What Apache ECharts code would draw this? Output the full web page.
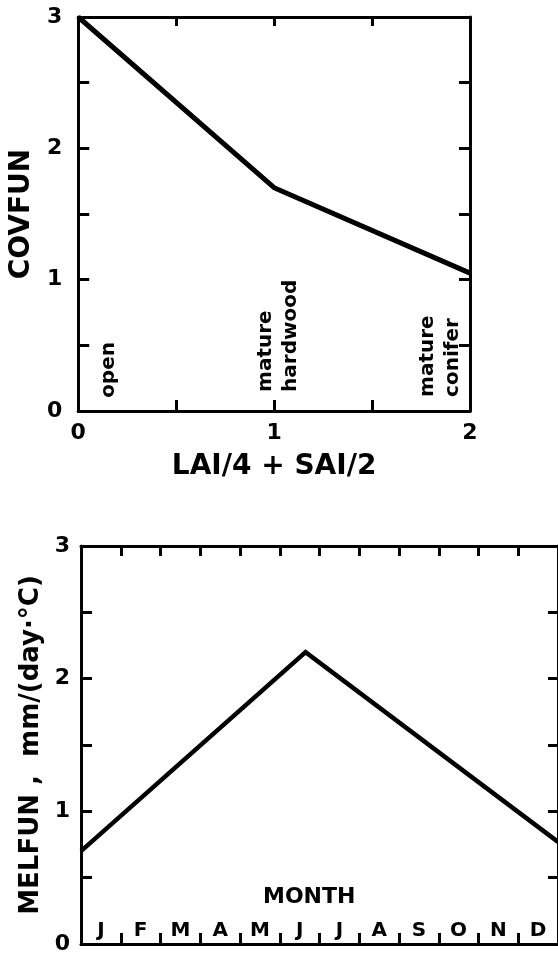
<!DOCTYPE html>
<html>
<head>
<meta charset="utf-8">
<script src="https://cdn.jsdelivr.net/npm/echarts@6/dist/echarts.min.js"></script>
<style>
  html, body { margin: 0; padding: 0; background: #fff; }
  #chart { width: 558px; height: 955px; }
</style>
</head>
<body>
<div id="chart"></div>
<script>
// Cover function: COVFUN against canopy index LAI/4 + SAI/2
const covX = [0, 1, 2];
const covY = [3, 1.7, 1.05];
const coverNames = ['open', 'mature\nhardwood', 'mature\nconifer'];
const coverX = [0.155, 1.02, 1.847];
const coverY = [0.10, 0.145, 0.107];

// Snowmelt function: MELFUN through the year (x in months from Jan 1)
const months = ['J', 'F', 'M', 'A', 'M', 'J', 'J', 'A', 'S', 'O', 'N', 'D'];
const melX = [0, 5.65, 12];
const melY = [0.7, 2.2, 0.77];

const FONT = 'DejaVu Sans';
const INK = '#000';

const intLabel = v => (Math.abs(v - Math.round(v)) < 1e-6 ? String(Math.round(v)) : '');

function frameAxis(extra) {
  return Object.assign({
    axisLine: { show: true, onZero: false, lineStyle: { color: INK, width: 3 } },
    axisTick: { show: true, inside: true, length: 11, lineStyle: { color: INK, width: 3 } },
    axisLabel: { show: false },
    splitLine: { show: false }
  }, extra);
}

const tickLabel = { show: true, color: INK, fontFamily: FONT, fontWeight: 'bold', fontSize: 22, formatter: intLabel };

const chart = echarts.init(document.getElementById('chart'), null, { renderer: 'canvas' });

chart.setOption({
  backgroundColor: '#fff',
  animation: false,
  grid: [
    { left: 72, top: 17, width: 398, height: 394 },
    { left: 81, top: 546, width: 482, height: 398 }
  ],
  xAxis: [
    frameAxis({
      type: 'value', gridIndex: 0, position: 'bottom', min: 0, max: 2, interval: 0.5,
      axisLabel: Object.assign({}, tickLabel, { margin: 11 }),
      name: 'LAI/4 + SAI/2', nameLocation: 'middle', nameGap: 42,
      nameTextStyle: { color: INK, fontFamily: FONT, fontWeight: 'bold', fontSize: 28 }
    }),
    frameAxis({ type: 'value', gridIndex: 0, position: 'top', min: 0, max: 2, interval: 0.5,
      axisTick: { show: true, inside: true, length: 9, lineStyle: { color: INK, width: 3 } } }),
    frameAxis({
      type: 'category', gridIndex: 1, position: 'bottom', data: months, boundaryGap: true,
      axisTick: { show: true, inside: true, length: 11, lineStyle: { color: INK, width: 3 } },
      axisLabel: { show: true, inside: true, margin: 3, color: INK, fontFamily: FONT, fontWeight: 'bold', fontSize: 20 }
    }),
    frameAxis({ type: 'value', gridIndex: 1, position: 'top', min: 0, max: 12, interval: 1,
      axisTick: { show: true, inside: true, length: 10, lineStyle: { color: INK, width: 3 } } })
  ],
  yAxis: [
    frameAxis({
      type: 'value', gridIndex: 0, position: 'left', min: 0, max: 3, interval: 0.5,
      axisLabel: Object.assign({}, tickLabel, { margin: 16 }),
      name: 'COVFUN', nameLocation: 'middle', nameGap: 32,
      nameTextStyle: { color: INK, fontFamily: FONT, fontWeight: 'bold', fontSize: 28 }
    }),
    frameAxis({ type: 'value', gridIndex: 0, position: 'right', min: 0, max: 3, interval: 0.5 }),
    frameAxis({
      type: 'value', gridIndex: 1, position: 'left', min: 0, max: 3, interval: 0.5,
      axisLabel: Object.assign({}, tickLabel, { margin: 11 }),
      name: 'MELFUN ,  mm/(day·°C)', nameLocation: 'middle', nameGap: 31,
      nameTextStyle: { color: INK, fontFamily: FONT, fontWeight: 'bold', fontSize: 26 }
    }),
    frameAxis({ type: 'value', gridIndex: 1, position: 'right', min: 0, max: 3, interval: 0.5,
      axisTick: { show: true, inside: true, length: 10, lineStyle: { color: INK, width: 3 } } })
  ],
  graphic: [
    { type: 'text', left: 263, top: 886,
      style: { text: 'MONTH', fill: INK, font: 'bold 22px "DejaVu Sans"' } }
  ],
  series: [
    {
      type: 'line', xAxisIndex: 0, yAxisIndex: 0,
      data: covX.map((x, i) => [x, covY[i]]),
      showSymbol: false, lineStyle: { color: INK, width: 5, join: 'round' }
    },
    {
      type: 'scatter', xAxisIndex: 0, yAxisIndex: 0, symbolSize: 0, silent: true,
      itemStyle: { opacity: 1 },
      data: coverNames.map((n, i) => ({ name: n, value: [coverX[i], coverY[i]] })),
      label: {
        show: true, formatter: p => p.name, position: [0, 0], rotate: 90,
        align: 'left', verticalAlign: 'middle', lineHeight: 25, opacity: 1,
        color: INK, fontFamily: FONT, fontWeight: 'bold', fontSize: 20
      }
    },
    {
      type: 'line', xAxisIndex: 3, yAxisIndex: 2,
      data: melX.map((x, i) => [x, melY[i]]),
      showSymbol: false, lineStyle: { color: INK, width: 4.5, join: 'miter' }
    }
  ]
});
</script>
</body>
</html>
